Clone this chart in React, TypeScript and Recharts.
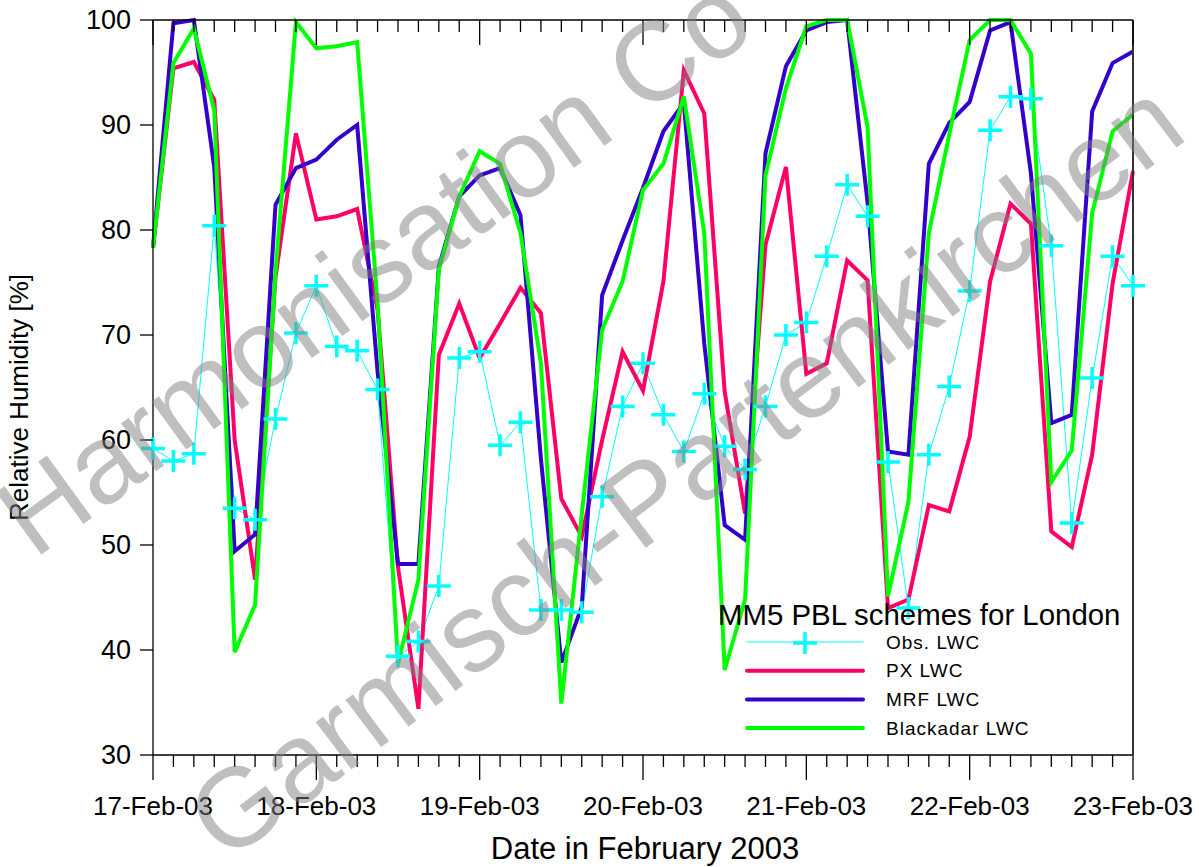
import React from 'react'
import { LineChart, Line, XAxis, YAxis, Legend } from 'recharts'

// 3-hourly values, 17-Feb-03 00h .. 23-Feb-03 00h
const dayLabels = ['17-Feb-03', '18-Feb-03', '19-Feb-03', '20-Feb-03', '21-Feb-03', '22-Feb-03', '23-Feb-03']
const stepsPerDay = 8
const yTicks = [30, 40, 50, 60, 70, 80, 90, 100]

const obsLwc = [
    59.2, 58.0, 58.7, 80.4, 53.5, 52.4, 62.0, 70.2,
    74.7, 68.9, 68.5, 64.8, 39.4, 40.8, 46.1, 67.8,
    68.4, 59.5, 61.7, 43.8, 43.8, 43.6, 54.6, 63.2,
    67.3, 62.4, 58.9, 64.4, 59.4, 57.2, 63.2, 70.0,
    71.2, 77.5, 84.3, 81.3, 57.9, 44.0, 58.6, 65.1,
    74.2, 89.5, 92.7, 92.5, 78.5, 52.1, 65.9, 77.5,
    74.7,
]
const pxLwc = [
    78.3, 95.4, 96.0, 92.4, 60.0, 46.7, 75.5, 89.2,
    81.0, 81.3, 82.0, 72.4, 47.9, 34.4, 68.1, 73.0,
    67.8, 71.1, 74.5, 72.1, 54.4, 50.8, 60.0, 68.4,
    64.7, 75.1, 95.2, 91.1, 64.6, 53.0, 78.6, 86.0,
    66.3, 67.3, 77.1, 75.2, 44.0, 44.8, 53.8, 53.2,
    60.3, 75.1, 82.5, 80.6, 51.3, 49.8, 58.6, 74.9,
    85.6,
]
const mrfLwc = [
    78.3, 99.7, 100, 86.0, 49.4, 51.0, 82.4, 85.9,
    86.7, 88.6, 90.0, 66.5, 48.2, 48.2, 76.5, 83.2,
    85.2, 85.9, 81.4, 58.2, 38.8, 44.1, 73.8, 79.0,
    84.0, 89.4, 92.1, 69.2, 51.9, 50.5, 87.3, 95.6,
    99.0, 99.8, 100, 82.6, 58.9, 58.6, 86.3, 90.2,
    92.2, 99.0, 99.8, 85.4, 61.6, 62.4, 91.3, 95.9,
    97.0,
]
const blackadarLwc = [
    78.3, 95.9, 99.2, 91.4, 39.8, 44.3, 76.0, 99.8,
    97.3, 97.5, 97.9, 73.0, 38.7, 46.7, 76.2, 83.2,
    87.5, 86.3, 79.7, 67.3, 34.9, 52.9, 70.5, 75.1,
    83.8, 86.3, 92.7, 79.7, 38.1, 44.8, 85.2, 93.5,
    99.4, 100, 100, 89.8, 45.1, 54.1, 79.7, 89.1,
    98.1, 100, 100, 96.8, 56.0, 59.0, 81.6, 89.4,
    91.0,
]

const series = [
    { key: 'obs', name: 'Obs. LWC', color: '#00FFFF' },
    { key: 'px', name: 'PX LWC', color: '#FF0066' },
    { key: 'mrf', name: 'MRF LWC', color: '#3300CC' },
    { key: 'blackadar', name: 'Blackadar LWC', color: '#00FF00' },
]

const chartData = obsLwc.map((obs, i) => ({
    step: i,
    obs,
    px: pxLwc[i],
    mrf: mrfLwc[i],
    blackadar: blackadarLwc[i],
}))
const allSteps = chartData.map(d => d.step)

const FONT = '"Liberation Sans", Arial, Helvetica, sans-serif'

const BottomTick = (props: any) => {
    const { x, y, payload } = props
    const major = payload.value % stepsPerDay === 0
    return (
        <g>
            <line x1={x} x2={x} y1={y} y2={y + (major ? 25 : 12)} stroke="#000" strokeWidth={1.3} />
            {major && (
                <text x={x} y={y + 51} textAnchor="middle" dominantBaseline="central"
                    fontSize={26} fontFamily={FONT} fill="#000">
                    {dayLabels[payload.value / stepsPerDay]}
                </text>
            )}
        </g>
    )
}

const TopTick = (props: any) => {
    const { x, y, payload } = props
    const major = payload.value % stepsPerDay === 0
    return <line x1={x} x2={x} y1={y} y2={y + (major ? 25 : 12)} stroke="#000" strokeWidth={1.3} />
}

const LeftTick = (props: any) => {
    const { x, y, payload } = props
    return (
        <g>
            <line x1={x - 13} x2={x} y1={y} y2={y} stroke="#000" strokeWidth={1.3} />
            <text x={x - 22} y={y} textAnchor="end" dominantBaseline="central"
                fontSize={27} fontFamily={FONT} fill="#000">
                {payload.value}
            </text>
        </g>
    )
}

const RightTick = (props: any) => {
    const { x, y } = props
    return <line x1={x - 12} x2={x} y1={y} y2={y} stroke="#333" strokeWidth={1.3} />
}

const plusPath = (cx: number, cy: number) => `M${cx - 12},${cy}H${cx + 12}M${cx},${cy - 11}V${cy + 11}`

const PlusDot = (props: any) => {
    const { cx, cy, index } = props
    if (cx == null || cy == null) return <g key={`p-${index}`} />
    return <path key={`p-${index}`} d={plusPath(cx, cy)} stroke="#00FFFF" strokeWidth={3.5} fill="none" />
}

const renderLegend = () => (
    <svg width={430} height={160} style={{ display: 'block' }}>
        <text x={18} y={24} dominantBaseline="central" fontSize={29.4} fontFamily={FONT} fill="#000">
            MM5 PBL schemes for London
        </text>
        {series.map((s, i) => {
            const y = 52 + i * 28.7
            const isObs = s.key === 'obs'
            return (
                <g key={s.key}>
                    <line x1={47} x2={163} y1={y} y2={y} stroke={s.color}
                        strokeWidth={isObs ? 1 : 4} strokeLinecap="round" />
                    {isObs && <path d={plusPath(105, y + 1)} stroke={s.color} strokeWidth={3.5} />}
                    <text x={186} y={y} dominantBaseline="central" fontSize={19}
                        letterSpacing={1} fontFamily={FONT} fill="#000">
                        {s.name}
                    </text>
                </g>
            )
        })}
    </svg>
)

const Watermark = () => (
    <svg width={1199} height={867} style={{ position: 'absolute', left: 0, top: 0, pointerEvents: 'none' }}>
        <g fill="#808080" fillOpacity={0.5} fontFamily={FONT} fontSize={112}>
            <text transform="translate(34,560) rotate(-36)">Harmonisation Co</text>
            <text transform="translate(226,864) rotate(-37)">Garmisch-Partenkirchen</text>
        </g>
    </svg>
)

export default function App() {
    return (
        <div style={{ position: 'absolute', left: 0, top: 0, width: 1199, height: 867, background: '#fff', overflow: 'hidden' }}>
            <LineChart width={1199} height={867} data={chartData}
                margin={{ top: 0, right: 0, bottom: 0, left: 0 }}>
                <XAxis dataKey="step" type="number" domain={[0, 48]} ticks={allSteps} interval={0}
                    tickSize={0} tickMargin={0} tickLine={false} height={112}
                    axisLine={{ stroke: '#000', strokeWidth: 1.3 }} tick={BottomTick} />
                <XAxis xAxisId="top" dataKey="step" type="number" orientation="top" domain={[0, 48]}
                    ticks={allSteps} interval={0} tickSize={0} tickMargin={0} tickLine={false} height={20}
                    axisLine={{ stroke: '#000', strokeWidth: 1.3 }} tick={TopTick} />
                <YAxis type="number" domain={[30, 100]} ticks={yTicks} interval={0} width={153}
                    tickSize={0} tickMargin={0} tickLine={false}
                    axisLine={{ stroke: '#000', strokeWidth: 1.3 }} tick={LeftTick}
                    label={{
                        value: 'Relative Humidity [%]', angle: -90, position: 'insideLeft',
                        dx: 14, dy: 10, style: { fontSize: 26, fontFamily: FONT, fill: '#000', textAnchor: 'middle' },
                    }} />
                <YAxis yAxisId="right" type="number" orientation="right" domain={[30, 100]} ticks={yTicks}
                    interval={0} width={66} tickSize={0} tickMargin={0} tickLine={false}
                    axisLine={{ stroke: '#333', strokeWidth: 2 }} tick={RightTick} />
                <Legend layout="vertical" align="center" verticalAlign="middle" content={renderLegend}
                    wrapperStyle={{ position: 'absolute', left: 700, top: 590, width: 430, height: 160 }} />
                <Line dataKey="obs" name="Obs. LWC" stroke="#00FFFF" strokeWidth={1} dot={PlusDot}
                    activeDot={false} isAnimationActive={false} />
                <Line dataKey="px" name="PX LWC" stroke="#FF0066" strokeWidth={4} dot={false}
                    activeDot={false} isAnimationActive={false} />
                <Line dataKey="mrf" name="MRF LWC" stroke="#3300CC" strokeWidth={4} dot={false}
                    activeDot={false} isAnimationActive={false} />
                <Line dataKey="blackadar" name="Blackadar LWC" stroke="#00FF00" strokeWidth={4} dot={false}
                    activeDot={false} isAnimationActive={false} />
                <text x={645} y={848} textAnchor="middle" dominantBaseline="central"
                    fontSize={31} fontFamily={FONT} fill="#000">
                    Date in February 2003
                </text>
            </LineChart>
            <Watermark />
        </div>
    )
}
